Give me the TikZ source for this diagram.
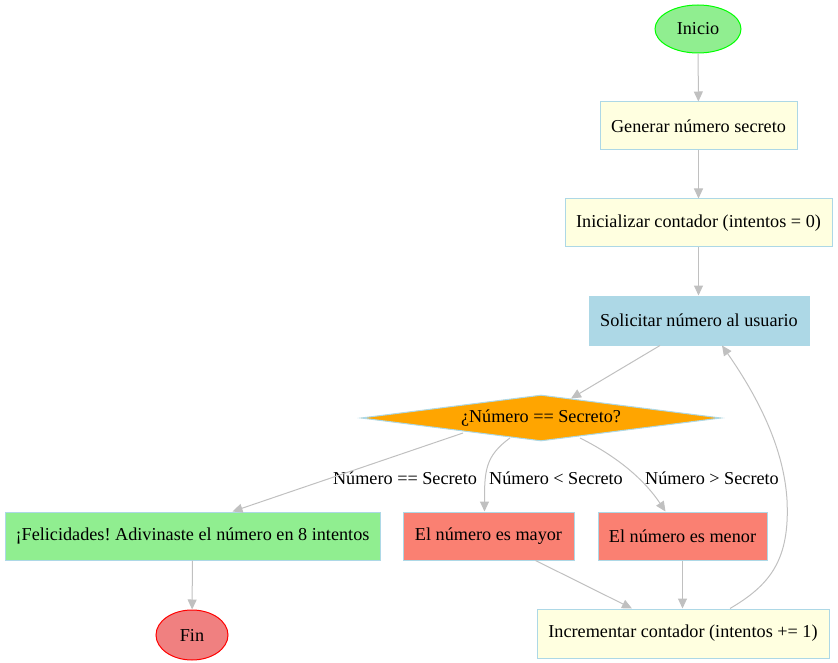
\documentclass[tikz,border=0pt]{standalone}
\usepackage{fontspec}
\setmainfont{Liberation Serif}
\usepackage{tikz}
\usetikzlibrary{shapes.geometric,arrows.meta,calc}
\frenchspacing
\definecolor{verdeclaro}{HTML}{90EE90}
\definecolor{verde}{HTML}{00FF00}
\definecolor{amarilloclaro}{HTML}{FFFFE0}
\definecolor{azulclaro}{HTML}{ADD8E6}
\definecolor{naranja}{HTML}{FFA500}
\definecolor{salmon}{HTML}{FA8072}
\definecolor{coralclaro}{HTML}{F08080}
\definecolor{rojo}{HTML}{FF0000}
\definecolor{flecha}{HTML}{C0C0C0}
\tikzset{
	caja/.style={rectangle,draw=azulclaro,line width=1pt,inner sep=0pt,font=\fontsize{18.2}{20}\selectfont},
	terminal/.style={ellipse,line width=1pt,inner sep=0pt,font=\fontsize{18.2}{20}\selectfont},
	etiqueta/.style={inner sep=0pt,font=\fontsize{18.2}{20}\selectfont},
	flujo/.style={draw=flecha,line width=1pt,-{Triangle[length=10pt,width=9pt]}}
}
\begin{document}
\begin{tikzpicture}[x=1pt,y=-1pt]
	\useasboundingbox (0,0) rectangle (838,663);
	\node[terminal,draw=verde,fill=verdeclaro,minimum width=86pt,minimum height=48pt] (inicio) at (698,29) {Inicio};
	\node[caja,fill=amarilloclaro,minimum width=197pt,minimum height=48pt] (generar) at (698.5,126) {Generar número secreto};
	\node[caja,fill=amarilloclaro,minimum width=267pt,minimum height=48pt] (inicializar) at (698.5,223) {Inicializar contador (intentos = 0)};
	\node[caja,fill=azulclaro,minimum width=220pt,minimum height=49pt] (solicitar) at (699,320.5) {Solicitar número al usuario};
	\node[diamond,draw=azulclaro,fill=naranja,line width=1pt,inner sep=0pt,aspect=7.8,minimum width=360pt,minimum height=46pt,font=\fontsize{18.2}{20}\selectfont] (decision) at (541,418) {¿Número == Secreto?};
	\node[caja,fill=verdeclaro,minimum width=375pt,minimum height=48pt] (felicidades) at (192.5,536) {¡Felicidades! Adivinaste el número en 8 intentos};
	\node[caja,fill=salmon,minimum width=171pt,minimum height=48pt] (mayor) at (488.5,536) {El número es mayor};
	\node[caja,fill=salmon,minimum width=169pt,minimum height=48pt] (menor) at (682.5,536) {El número es menor};
	\node[terminal,draw=rojo,fill=coralclaro,minimum width=72pt,minimum height=50pt] (fin) at (192,635) {Fin};
	\node[caja,fill=amarilloclaro,minimum width=292pt,minimum height=49pt] (incrementar) at (683,633.5) {Incrementar contador (intentos += 1)};
	\node[etiqueta] (lbligual) at (405,478) {Número == Secreto};
	\node[etiqueta] (lblmenor) at (556,478) {Número < Secreto};
	\node[etiqueta] (lblmayor) at (712,478) {Número > Secreto};
	\draw[flujo] (inicio) -- (generar);
	\draw[flujo] (generar) -- (inicializar);
	\draw[flujo] (inicializar.south) -- (inicializar.south |- solicitar.north);
	\draw[flujo] ($(solicitar.south)+(-39,0)$) -- ($(decision.north)+(30,4)$);
	\draw[flujo] ($(decision)+(-78,15)$) -- ($(felicidades.north)+(40,0)$);
	\draw[flujo] ($(decision)+(-31,20)$) .. controls +(-25,18) and +(0,-40) .. ($(mayor.north)+(-4,0)$);
	\draw[flujo] ($(decision)+(39,20)$) .. controls +(40,20) and +(-20,-30) .. ($(menor.north)+(-17,0)$);
	\draw[flujo] ($(mayor.south)+(47,0)$) -- ($(incrementar.north)+(-51,0)$);
	\draw[flujo] (menor.south) -- (menor.south |- incrementar.north);
	\draw[flujo] (felicidades) -- (fin);
	\draw[flujo] ($(incrementar.north)+(47,0)$) .. controls (770,585) and (790,560) .. (787,500) .. controls (784,450) and (760,400) .. ($(solicitar.south)+(23,0)$);
\end{tikzpicture}
\end{document}
